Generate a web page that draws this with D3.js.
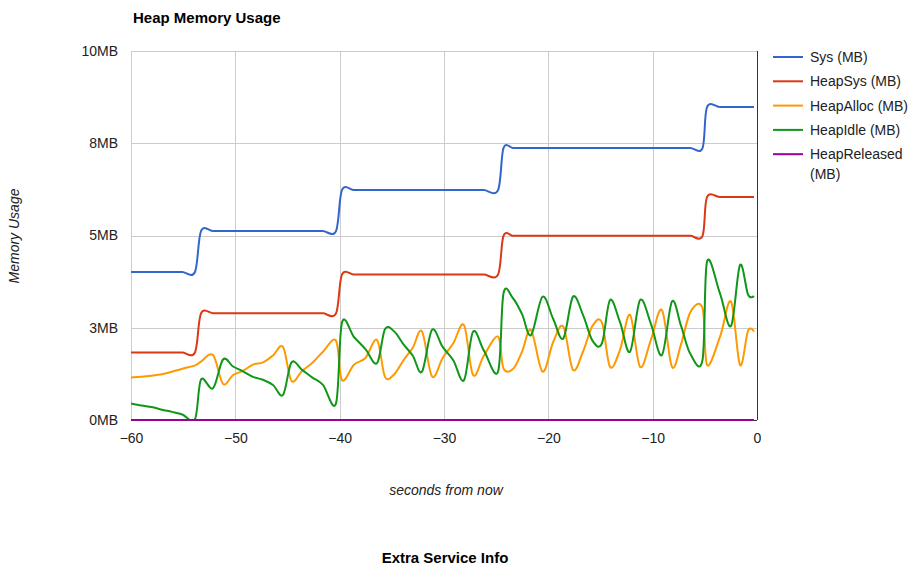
<!DOCTYPE html>
<html>
<head>
<meta charset="utf-8">
<script src="https://cdn.jsdelivr.net/npm/d3@7"></script>
<style>
  body { margin: 0; background: #fff; font-family: Arial, "Liberation Sans", sans-serif; }
  .info { position: absolute; left: 0; width: 890px; top: 549px; text-align: center; font-weight: bold; font-size: 15px; }
</style>
</head>
<body>
<svg class="heap-chart" width="923" height="540"></svg>
<div class="info">Extra Service Info</div>
<script>
// sample times, seconds from now
const seconds = [-60.00, -59.01, -58.03, -57.05, -56.07, -55.08, -53.87, -53.29, -52.14, -51.18,
  -50.22, -49.27, -48.31, -47.35, -46.39, -45.43, -44.62, -43.61, -42.61, -41.60,
  -40.35, -39.78, -38.63, -37.53, -36.42, -35.66, -34.77, -33.88, -32.99, -32.11,
  -31.15, -30.13, -29.11, -28.08, -27.22, -26.17, -24.82, -24.30, -23.39, -22.52,
  -21.66, -20.56, -19.55, -18.57, -17.64, -16.68, -15.77, -14.86, -14.09, -13.13,
  -12.17, -11.21, -10.16, -9.11, -8.15, -7.28, -6.37, -5.22, -4.79, -3.55,
  -2.49, -1.63, -0.86, -0.29]

const sysMB = [4.01, 4.01, 4.01, 4.01, 4.01, 4.01, 4.01, 5.12, 5.12, 5.12,
  5.12, 5.12, 5.12, 5.12, 5.12, 5.12, 5.12, 5.12, 5.12, 5.12,
  5.12, 6.23, 6.23, 6.23, 6.23, 6.23, 6.23, 6.23, 6.23, 6.23,
  6.23, 6.23, 6.23, 6.23, 6.23, 6.23, 6.23, 7.37, 7.37, 7.37,
  7.37, 7.37, 7.37, 7.37, 7.37, 7.37, 7.37, 7.37, 7.37, 7.37,
  7.37, 7.37, 7.37, 7.37, 7.37, 7.37, 7.37, 7.37, 8.48, 8.48,
  8.48, 8.48, 8.48, 8.48]

const heapSysMB = [1.83, 1.83, 1.83, 1.83, 1.83, 1.83, 1.83, 2.89, 2.89, 2.89,
  2.89, 2.89, 2.89, 2.89, 2.89, 2.89, 2.89, 2.89, 2.89, 2.89,
  2.89, 3.94, 3.94, 3.94, 3.94, 3.94, 3.94, 3.94, 3.94, 3.94,
  3.94, 3.94, 3.94, 3.94, 3.94, 3.94, 3.94, 4.99, 4.99, 4.99,
  4.99, 4.99, 4.99, 4.99, 4.99, 4.99, 4.99, 4.99, 4.99, 4.99,
  4.99, 4.99, 4.99, 4.99, 4.99, 4.99, 4.99, 4.99, 6.04, 6.04,
  6.04, 6.04, 6.04, 6.04]

const heapAllocMB = [1.15, 1.17, 1.20, 1.24, 1.31, 1.39, 1.48, 1.58, 1.76, 0.98,
  1.22, 1.33, 1.50, 1.56, 1.75, 1.98, 1.06, 1.33, 1.55, 1.85,
  2.15, 1.08, 1.50, 1.68, 2.17, 1.17, 1.24, 1.62, 1.96, 2.40,
  1.18, 1.68, 2.08, 2.57, 1.22, 1.75, 2.26, 1.40, 1.38, 1.85,
  2.44, 1.31, 2.10, 2.53, 1.36, 1.85, 2.55, 2.64, 1.44, 1.90,
  2.85, 1.44, 2.18, 2.98, 1.44, 2.05, 2.93, 3.03, 1.49, 2.25,
  3.21, 1.49, 2.42, 2.40]

const heapIdleMB = [0.45, 0.39, 0.35, 0.28, 0.22, 0.15, 0.02, 1.10, 0.86, 1.64,
  1.45, 1.32, 1.17, 1.09, 0.95, 0.68, 1.56, 1.36, 1.15, 0.95,
  0.45, 2.64, 2.25, 1.92, 1.54, 2.46, 2.40, 2.05, 1.74, 1.31,
  2.44, 1.98, 1.62, 1.08, 2.39, 1.88, 1.31, 3.43, 3.30, 2.87,
  2.30, 3.34, 2.75, 2.21, 3.34, 2.85, 2.15, 2.08, 3.25, 2.65,
  1.85, 3.25, 2.60, 1.76, 3.21, 2.55, 1.78, 1.63, 4.29, 3.43,
  2.55, 4.20, 3.40, 3.36]

const heapReleasedMB = [0, 0, 0, 0, 0, 0, 0, 0, 0, 0,
  0, 0, 0, 0, 0, 0, 0, 0, 0, 0,
  0, 0, 0, 0, 0, 0, 0, 0, 0, 0,
  0, 0, 0, 0, 0, 0, 0, 0, 0, 0,
  0, 0, 0, 0, 0, 0, 0, 0, 0, 0,
  0, 0, 0, 0, 0, 0, 0, 0, 0, 0,
  0, 0, 0, 0]

const seriesNames = ['Sys (MB)', 'HeapSys (MB)', 'HeapAlloc (MB)', 'HeapIdle (MB)', 'HeapReleased (MB)']
const seriesValues = [sysMB, heapSysMB, heapAllocMB, heapIdleMB, heapReleasedMB]
const seriesColors = ['#3366cc', '#dc3912', '#ff9900', '#109618', '#990099']

const xTicks = [-60, -50, -40, -30, -20, -10, 0]
const yTicks = [0, 2.5, 5, 7.5, 10]
const yTickLabels = ['0MB', '3MB', '5MB', '8MB', '10MB']

const area = { left: 131, right: 757, top: 51, bottom: 420 }

const x = d3.scaleLinear().domain([-60, 0]).range([area.left, area.right])
const y = d3.scaleLinear().domain([0, 10]).range([area.bottom, area.top])

const svg = d3.select('.heap-chart')

function drawGrid() {
  const grid = svg.append('g').attr('class', 'chart__grid')
  grid.selectAll('.grid-x')
  .data(xTicks)
  .enter()
  .append('line')
  .attr('x1', d => Math.round(x(d)) + 0.5)
  .attr('x2', d => Math.round(x(d)) + 0.5)
  .attr('y1', area.top)
  .attr('y2', area.bottom)
  .attr('stroke', d => d === 0 ? '#333' : '#cccccc')
  .attr('stroke-width', 1)

  grid.selectAll('.grid-y')
  .data(yTicks)
  .enter()
  .append('line')
  .attr('x1', area.left)
  .attr('x2', area.right)
  .attr('y1', d => Math.round(y(d)) + 0.5)
  .attr('y2', d => Math.round(y(d)) + 0.5)
  .attr('stroke', d => d === 0 ? '#333' : '#cccccc')
  .attr('stroke-width', 1)
}

function drawAxes() {
  const xAxis = d3.axisBottom(x).tickValues(xTicks).tickSize(0).tickPadding(13)
  svg.append('g')
  .attr('transform', `translate(0,${area.bottom})`)
  .call(xAxis)
  .call(g => g.select('.domain').remove())
  .selectAll('text')
  .attr('font-size', 14)
  .attr('font-family', 'Arial, "Liberation Sans", sans-serif')
  .attr('fill', '#222')

  const yAxis = d3.axisLeft(y).tickValues(yTicks).tickSize(0).tickPadding(13)
  .tickFormat((d, i) => yTickLabels[i])
  svg.append('g')
  .attr('transform', `translate(${area.left},0)`)
  .call(yAxis)
  .call(g => g.select('.domain').remove())
  .selectAll('text')
  .attr('font-size', 14)
  .attr('font-family', 'Arial, "Liberation Sans", sans-serif')
  .attr('fill', '#222')

  svg.append('text')
  .attr('x', 446)
  .attr('y', 495)
  .attr('text-anchor', 'middle')
  .attr('font-style', 'italic')
  .attr('font-size', 14)
  .attr('fill', '#222')
  .text('seconds from now')

  svg.append('text')
  .attr('transform', 'translate(19,236) rotate(-90)')
  .attr('text-anchor', 'middle')
  .attr('font-style', 'italic')
  .attr('font-size', 14)
  .attr('fill', '#222')
  .text('Memory Usage')

  svg.append('text')
  .attr('x', 133)
  .attr('y', 23)
  .attr('font-weight', 'bold')
  .attr('font-size', 15)
  .attr('fill', '#000')
  .text('Heap Memory Usage')
}

function drawLines() {
  svg.append('clipPath')
  .attr('id', 'plot-clip')
  .append('rect')
  .attr('x', area.left)
  .attr('y', area.top - 5)
  .attr('width', area.right - area.left)
  .attr('height', area.bottom - area.top + 6)

  const line = d3.line()
  .x(d => x(d[0]))
  .y(d => y(d[1]))
  .curve(d3.curveCardinal.tension(0))

  svg.append('g')
  .attr('class', 'chart__lines')
  .attr('clip-path', 'url(#plot-clip)')
  .selectAll('path')
  .data(seriesValues)
  .enter()
  .append('path')
  .attr('fill', 'none')
  .attr('stroke', (d, i) => seriesColors[i])
  .attr('stroke-width', 2)
  .attr('d', d => line(d.map((v, i) => [seconds[i], v])))
}

function drawLegend() {
  const legend = svg.append('g').attr('class', 'chart__legend')
  const rows = legend.selectAll('g')
  .data(seriesNames)
  .enter()
  .append('g')
  .attr('transform', (d, i) => `translate(773,${57 + i * 24.3})`)

  rows.append('line')
  .attr('x1', 0)
  .attr('x2', 30)
  .attr('stroke', (d, i) => seriesColors[i])
  .attr('stroke-width', 2)

  rows.append('text')
  .attr('x', 37)
  .attr('y', 5)
  .attr('font-size', 14)
  .attr('fill', '#222')
  .each(function(d) {
    const parts = d === 'HeapReleased (MB)' ? ['HeapReleased', '(MB)'] : [d]
    d3.select(this).selectAll('tspan')
    .data(parts)
    .enter()
    .append('tspan')
    .attr('x', 37)
    .attr('dy', (p, j) => j === 0 ? 0 : 20)
    .text(p => p)
  })
}

drawGrid()
drawLines()
drawAxes()
drawLegend()
</script>
</body>
</html>
